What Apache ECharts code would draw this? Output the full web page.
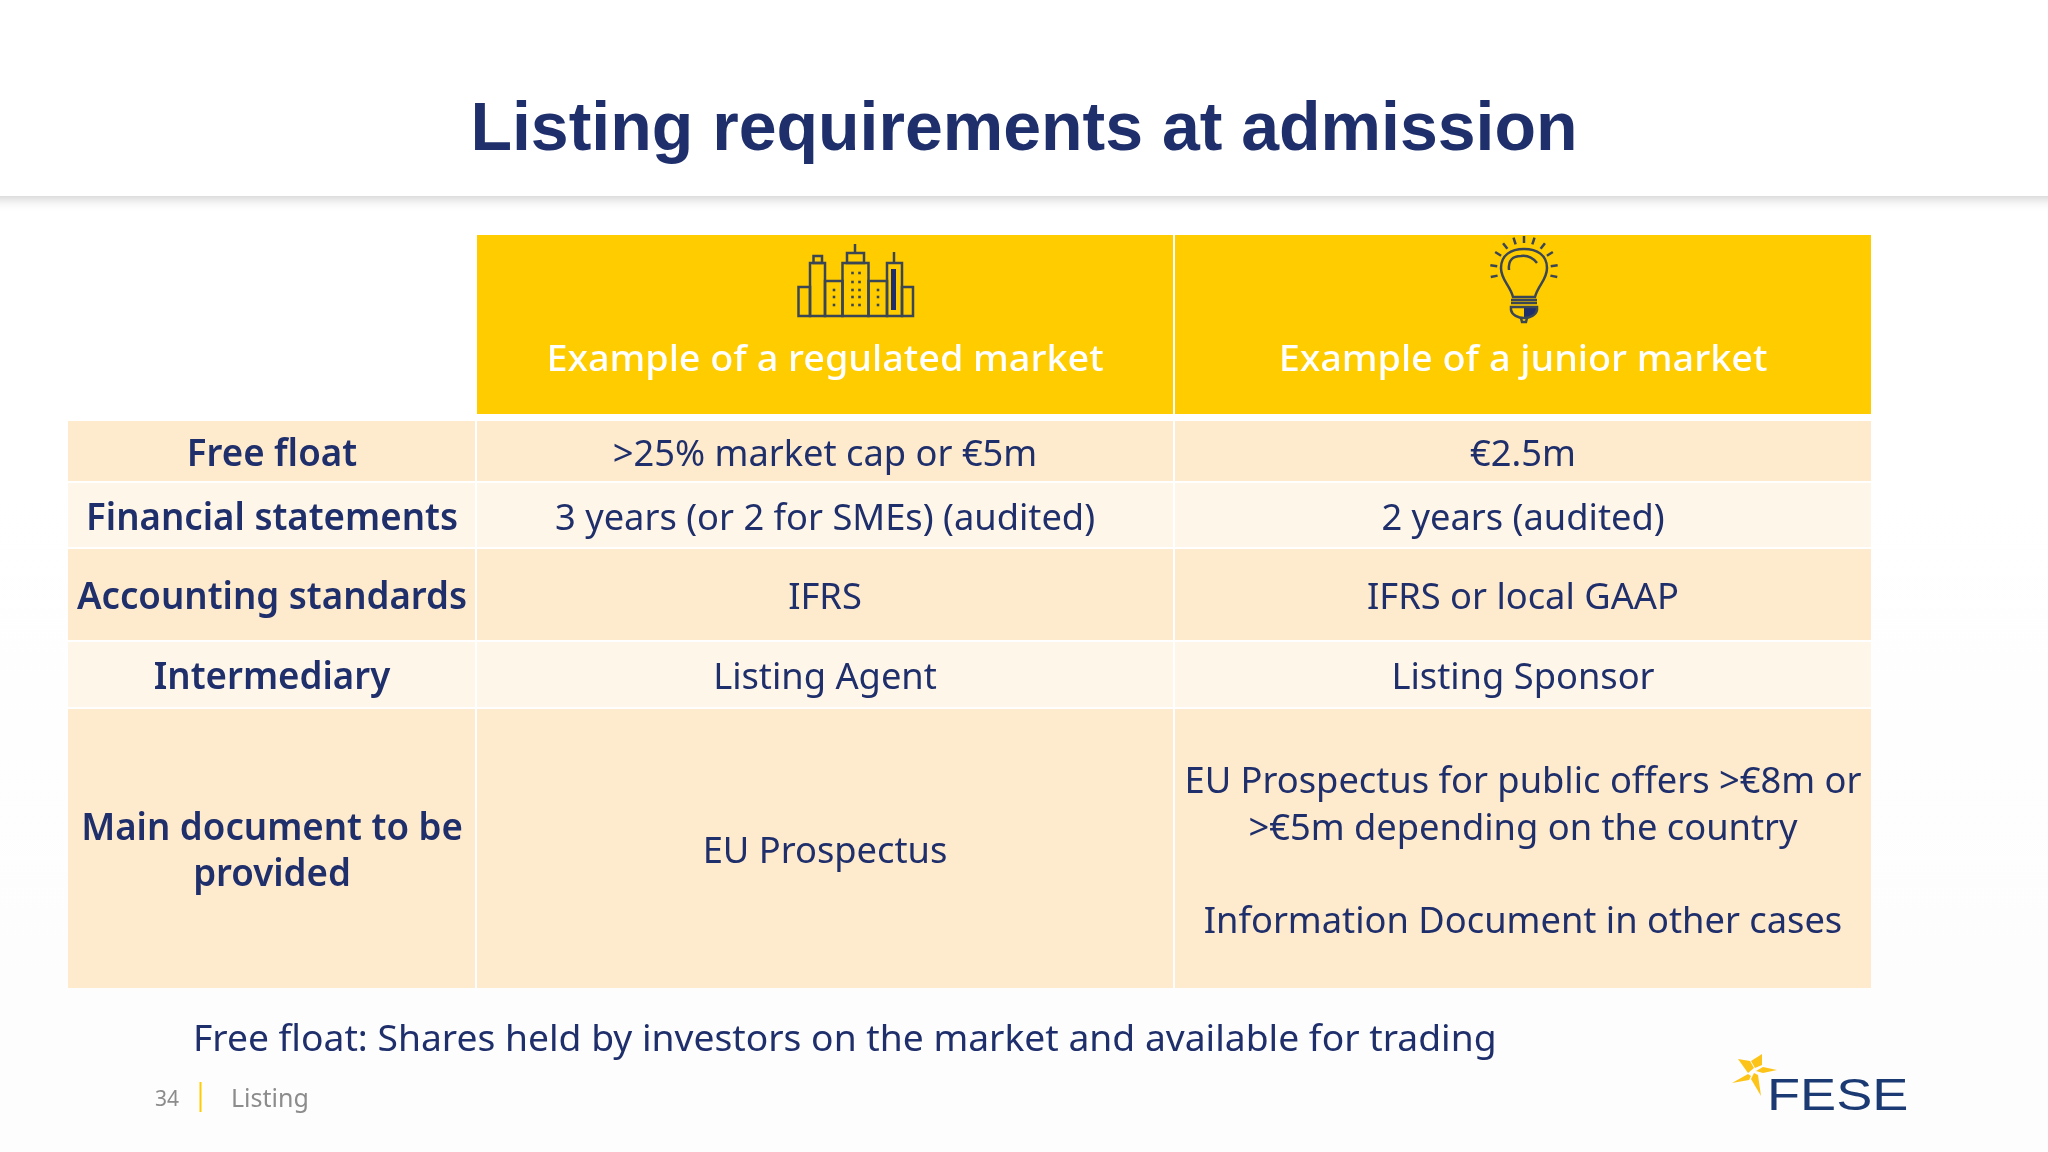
<!DOCTYPE html>
<html><head><meta charset="utf-8">
<style>html,body{margin:0;padding:0;background:#fff}#c{width:2048px;height:1152px}</style>
<script src="https://cdn.jsdelivr.net/npm/echarts@6/dist/echarts.min.js"></script>
</head><body><div id="c"></div>
<script>
// ---- content ----
const pageTitle = "Listing requirements at admission";
const columnHeaders = ["Example of a regulated market", "Example of a junior market"];
const rowLabels = ["Free float", "Financial statements", "Accounting standards", "Intermediary", "Main document to be\nprovided"];
const regulatedValues = [">25% market cap or €5m", "3 years (or 2 for SMEs) (audited)", "IFRS", "Listing Agent", "EU Prospectus"];
const juniorValues = ["€2.5m", "2 years (audited)", "IFRS or local GAAP", "Listing Sponsor",
  "EU Prospectus for public offers >€8m or\n>€5m depending on the country\n\nInformation Document in other cases"];
const footnote = "Free float: Shares held by investors on the market and available for trading";
const pageNumber = "34";
const sectionName = "Listing";
const logoName = "FESE";

// ---- table geometry in axis units ----
const columnWidths = [409, 698, 696];
const rowHeights = [186, 62, 66, 93, 67, 279];
const rowGaps = [7, 2, 2, 2, 2, 0];

const NAVY = "#1f2f6b", GOLD = "#ffcc00", DARK = "#feeacc", LIGHT = "#fef6e8";
const BODY = '"Noto Sans"';
const bodySize = 37, footScale = 1.006, cellScale = 0.98, labelScale = 0.99, headerScale = 1.02;

const sum = (a, n) => a.slice(0, n).reduce((s, v) => s + v, 0);

const cells = [];
columnHeaders.forEach((t, i) => cells.push([i + 1, 0, t]));
rowLabels.forEach((t, r) => cells.push([0, r + 1, t]));
regulatedValues.forEach((t, r) => cells.push([1, r + 1, t]));
juniorValues.forEach((t, r) => cells.push([2, r + 1, t]));

function renderCell(params, api) {
  const col = api.value(0), row = api.value(1), label = cells[params.dataIndex][2];
  const tl = api.coord([sum(columnWidths, col), sum(rowHeights, row)]);
  const br = api.coord([sum(columnWidths, col + 1), sum(rowHeights, row + 1)]);
  const gapX = col < columnWidths.length - 1 ? 2 : 0, gapY = rowGaps[row];
  const x = tl[0], y = tl[1], w = br[0] - tl[0] - gapX, h = br[1] - tl[1] - gapY;
  const fill = row === 0 ? GOLD : (row % 2 === 1 ? DARK : LIGHT);
  const isHeader = row === 0;
  return {
    type: "group",
    children: [
      { type: "rect", shape: { x, y, width: w, height: h }, style: { fill } },
      {
        type: "text",
        x: x + w / 2 + (col === 0 ? 0.5 : 0),
        y: isHeader ? 360.5 : y + h / 2 + 4,
        scaleX: isHeader ? headerScale : (col === 0 ? labelScale : cellScale),
        style: {
          text: label, fill: isHeader ? "#ffffff" : NAVY,
          font: (col === 0 ? "600 " : isHeader ? "500 " : "400 ") + bodySize + "px " + BODY,
          lineHeight: 46.5, align: "center", verticalAlign: "middle"
        }
      }
    ]
  };
}

// ---- decoration ----
const ICON = "#3b4654";
const LW = 2.5;
const r = (x, y, w, h) => ({ type: "rect", shape: { x, y, width: w, height: h }, style: { fill: "none", stroke: ICON, lineWidth: LW } });
const l = (x1, y1, x2, y2, c) => ({ type: "line", shape: { x1, y1, x2, y2 }, style: { stroke: c || ICON, lineWidth: LW } });
const dot = (x, y) => ({ type: "rect", shape: { x: x - 1.3, y: y - 1.3, width: 2.6, height: 2.6 }, style: { fill: ICON } });

const buildingKids = [
  r(798.5, 287, 11.5, 29), r(810, 263, 15, 53), r(813.5, 256, 8.5, 7), r(825, 281, 17.5, 35),
  r(842.5, 263, 26, 53), r(847, 253, 17, 10), l(855, 244, 855, 253), r(868.5, 281, 18.5, 35),
  r(887, 263, 15, 53), l(894, 252, 894, 263), r(902, 287, 11, 29),
  { type: "rect", shape: { x: 891, y: 269, width: 5, height: 41 }, style: { fill: NAVY } }
];
[273, 282, 290, 297, 305].forEach(y => { buildingKids.push(dot(852.5, y), dot(859.5, y)); });
[290, 297, 305].forEach(y => { buildingKids.push(dot(834, y), dot(878, y)); });

const bulbKids = [
  { type: "path", shape: { pathData: "M1513 297 C1510 285 1501 280 1501 268 C1501 255 1511 249 1524 249 C1537 249 1547 255 1547 268 C1547 280 1538 285 1535 297 Z" }, style: { fill: "none", stroke: ICON, lineWidth: LW } },
  { type: "path", shape: { pathData: "M1509 270 C1508 260 1513 256 1521 256 C1528 255 1533 258 1537 263" }, style: { fill: "none", stroke: ICON, lineWidth: LW } },
  l(1511, 300, 1537, 300), l(1511, 303, 1537, 303),
  { type: "path", shape: { pathData: "M1524 307 L1537 307 L1537 310 C1536 315 1530 318 1524 318 Z" }, style: { fill: NAVY } },
  { type: "path", shape: { pathData: "M1511 307 L1537 307 L1537 310 C1536 315 1530 318 1524 318 C1518 318 1512 315 1511 310 Z" }, style: { fill: "none", stroke: ICON, lineWidth: LW } },
  { type: "path", shape: { pathData: "M1521 318 L1522 322 L1526 322 L1527 318" }, style: { fill: "none", stroke: ICON, lineWidth: LW } }
];
[0, 18, -18, 38, -38, 58, -58, 82, -82, 102, -102].forEach(a => {
  const t = a * Math.PI / 180;
  bulbKids.push(l(1524 + 27 * Math.sin(t), 270 - 27 * Math.cos(t), 1524 + 34 * Math.sin(t), 270 - 34 * Math.cos(t)));
});

const star = [
  [[1738, 1059], [1750, 1061], [1754, 1068], [1748, 1073]],
  [[1762, 1054], [1762, 1065], [1755, 1068], [1751, 1061]],
  [[1777, 1070], [1763, 1067], [1756, 1071], [1763, 1073]],
  [[1761, 1096], [1758, 1075], [1754, 1073], [1751, 1079]],
  [[1732, 1083], [1748, 1074], [1751, 1076], [1749, 1080]]
].map(points => ({ type: "polygon", shape: { points }, style: { fill: "#fcc419" } }));

const chart = echarts.init(document.getElementById("c"), null, { renderer: "canvas", width: 2048, height: 1152 });
chart.setOption({
  animation: false,
  backgroundColor: new echarts.graphic.LinearGradient(0, 0, 0, 1, [
    { offset: 0, color: "#ffffff" }, { offset: 0.4, color: "#ffffff" }, { offset: 0.85, color: "#fdfdfd" }, { offset: 1, color: "#fdfdfd" }
  ]),
  grid: { left: 68, top: 235, width: sum(columnWidths, 3), height: sum(rowHeights, 6), containLabel: false },
  xAxis: { type: "value", min: 0, max: sum(columnWidths, 3), show: false },
  yAxis: { type: "value", min: 0, max: sum(rowHeights, 6), inverse: true, show: false },
  series: [{
    type: "custom", silent: true, clip: false, z: 5,
    encode: { x: 0, y: 1 },
    data: cells.map(c => [c[0], c[1]]),
    renderItem: renderCell
  }, {
    type: "custom", silent: true, clip: false, z: 6,
    coordinateSystem: "none",
    data: [[0]],
    renderItem: () => ({ type: "group", children: [].concat(buildingKids, bulbKids, star) })
  }],
  graphic: { elements: [
    { type: "rect", z: 1, shape: { x: -20, y: -20, width: 2088, height: 216 },
      style: { fill: "#fff", shadowBlur: 12, shadowOffsetY: 2, shadowColor: "rgba(0,0,0,0.22)" } },
    { type: "text", z: 10, x: 1024, y: 131, style: { text: pageTitle, fill: NAVY, font: 'bold 68px "Liberation Sans"', align: "center", verticalAlign: "middle" } },
    { type: "text", z: 10, x: 193, y: 1040, scaleX: footScale, style: { text: footnote, fill: NAVY, font: bodySize + "px " + BODY, align: "left", verticalAlign: "middle" } },
    { type: "text", z: 10, x: 167, y: 1100, style: { text: pageNumber, fill: "#8c8c8c", font: "21px " + BODY, align: "center", verticalAlign: "middle" } },
    { type: "rect", z: 10, shape: { x: 199.5, y: 1082, width: 2, height: 30 }, style: { fill: GOLD } },
    { type: "text", z: 10, x: 231, y: 1100, style: { text: sectionName, fill: "#8c8c8c", font: "25px " + BODY, align: "left", verticalAlign: "middle" } },
    { type: "text", z: 10, x: 1767, y: 1098, scaleX: 1.23, style: { text: logoName, fill: "#1b3a73", font: '44px "Liberation Sans"', align: "left", verticalAlign: "middle" } }
  ] }
});
</script></body></html>
